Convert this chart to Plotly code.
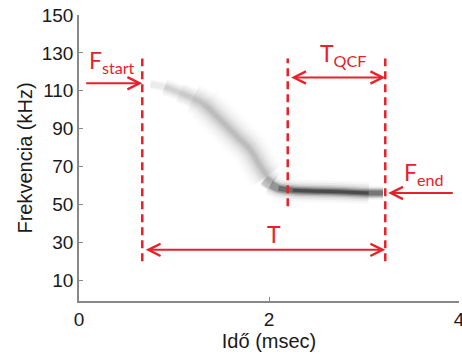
import plotly.graph_objects as go

# ---- data ----
x_ticks = [0, 2, 4]
y_ticks = [10, 30, 50, 70, 90, 110, 130, 150]

# call contour (time msec, freq kHz)
fm_time = [0.75, 0.90, 1.06, 1.20, 1.31, 1.48, 1.66, 1.80, 1.91, 1.98, 2.05]
fm_freq = [113.5, 112, 109, 106, 103, 95, 86, 79, 70, 65, 62]
qcf_time = [1.95, 2.02, 2.10, 2.25, 2.50, 2.80, 3.05, 3.20]
qcf_freq = [63, 60.5, 58.5, 57.5, 57, 56.5, 56, 56]

# measurement markers
t_start = 0.666
t_qcf = 2.197
t_end = 3.224
f_start = 114
f_end = 56
line1_range = [20, 127]
line2_range = [49, 127]
line3_range = [20, 127]
arrow_fstart_x = 0.06
arrow_fend_x = 3.95
arrow_tqcf_y = 117
arrow_t_y = 26

RED = "rgb(232,32,42)"

fig = go.Figure()


def smear(xs, ys, w, a):
    fig.add_trace(go.Scatter(x=xs, y=ys, mode="lines",
                             line=dict(color=f"rgba(0,0,0,{a})", width=w, shape="spline"),
                             hoverinfo="skip", showlegend=False))


# FM sweep: wide soft layers only in the middle, narrower layers over all
smear(fm_time[4:-1], fm_freq[4:-1], 36, 0.015)
smear(fm_time[3:-1], fm_freq[3:-1], 30, 0.02)
smear(fm_time[3:-1], fm_freq[3:-1], 25, 0.025)
smear(fm_time[2:], fm_freq[2:], 20, 0.03)
smear(fm_time[1:], fm_freq[1:], 16, 0.035)
smear(fm_time[1:], fm_freq[1:], 12, 0.035)
smear(fm_time, fm_freq, 9, 0.04)
smear(fm_time, fm_freq, 6, 0.04)
smear(fm_time[1:-1], fm_freq[1:-1], 4, 0.04)

# quasi-constant-frequency part
smear(qcf_time[1:-1], qcf_freq[1:-1], 22, 0.03)
smear(qcf_time[1:-1], qcf_freq[1:-1], 17, 0.05)
smear(qcf_time, qcf_freq, 13, 0.08)
smear(qcf_time, qcf_freq, 10, 0.12)
smear(qcf_time[1:], qcf_freq[1:], 7.5, 0.2)
smear(qcf_time[2:], qcf_freq[2:], 5, 0.28)
smear(qcf_time[3:-1], qcf_freq[3:-1], 3, 0.3)

# dashed vertical lines
for tx, rng in [(t_start, line1_range), (t_qcf, line2_range), (t_end, line3_range)]:
    fig.add_trace(go.Scatter(x=[tx, tx], y=rng, mode="lines",
                             line=dict(color=RED, width=2.5, dash="8px,5px"),
                             hoverinfo="skip", showlegend=False))

arrow_common = dict(xref="x", yref="y", axref="x", ayref="y", text="",
                    showarrow=True, arrowcolor=RED, arrowwidth=2,
                    arrowhead=5, arrowsize=1.2, standoff=0, startstandoff=0)
# F_start arrow
fig.add_annotation(x=t_start, y=f_start, ax=arrow_fstart_x, ay=f_start, **arrow_common)
# F_end arrow
fig.add_annotation(x=t_end + 0.03, y=f_end, ax=arrow_fend_x, ay=f_end, **arrow_common)
# T_QCF double arrow
fig.add_annotation(x=t_end, y=arrow_tqcf_y, ax=t_qcf + 0.02, ay=arrow_tqcf_y,
                   arrowside="end+start", startarrowhead=5, startarrowsize=1.2, **arrow_common)
# T double arrow
fig.add_annotation(x=t_end, y=arrow_t_y, ax=t_start + 0.02, ay=arrow_t_y,
                   arrowside="end+start", startarrowhead=5, startarrowsize=1.2, **arrow_common)

lab_font = dict(family="Lato, Open Sans, sans-serif", size=23, color=RED)
fig.add_annotation(x=0.08, y=125.5, text="F<sub>start</sub>", showarrow=False,
                   xanchor="left", yanchor="middle", font=lab_font)
fig.add_annotation(x=2.52, y=129, text="T<sub>QCF</sub>", showarrow=False,
                   xanchor="left", yanchor="middle", font=lab_font)
fig.add_annotation(x=3.40, y=66.5, text="F<sub>end</sub>", showarrow=False,
                   xanchor="left", yanchor="middle", font=lab_font)
fig.add_annotation(x=2.05, y=34.5, text="T", showarrow=False,
                   xanchor="center", yanchor="middle", font=lab_font)

tick_font = dict(family="Liberation Sans, Arial, sans-serif", size=19, color="#1a1a1a")
title_font = dict(family="Liberation Sans, Arial, sans-serif", size=20, color="#1a1a1a")
fig.update_layout(
    width=462, height=355,
    margin=dict(l=79, r=3, t=15, b=54),
    plot_bgcolor="white", paper_bgcolor="white",
    xaxis=dict(range=[0, 4], tickvals=x_ticks, ticktext=[str(v) for v in x_ticks],
               showgrid=False, zeroline=False, showline=True, linecolor="#888", linewidth=1.5,
               ticks="inside", ticklen=4, tickcolor="#888", tickfont=tick_font,
               ticklabeloverflow="allow", automargin=False,
               title=dict(text="Idő (msec)", font=title_font, standoff=4)),
    yaxis=dict(range=[-1, 150], tickvals=y_ticks, ticktext=[str(v) for v in y_ticks],
               showgrid=False, zeroline=False, showline=True, linecolor="#888", linewidth=1.5,
               ticks="inside", ticklen=4, tickcolor="#888", tickfont=tick_font,
               automargin=False,
               title=dict(text="Frekvencia (kHz)", font=title_font, standoff=4)),
)

fig.write_html("out.html")
